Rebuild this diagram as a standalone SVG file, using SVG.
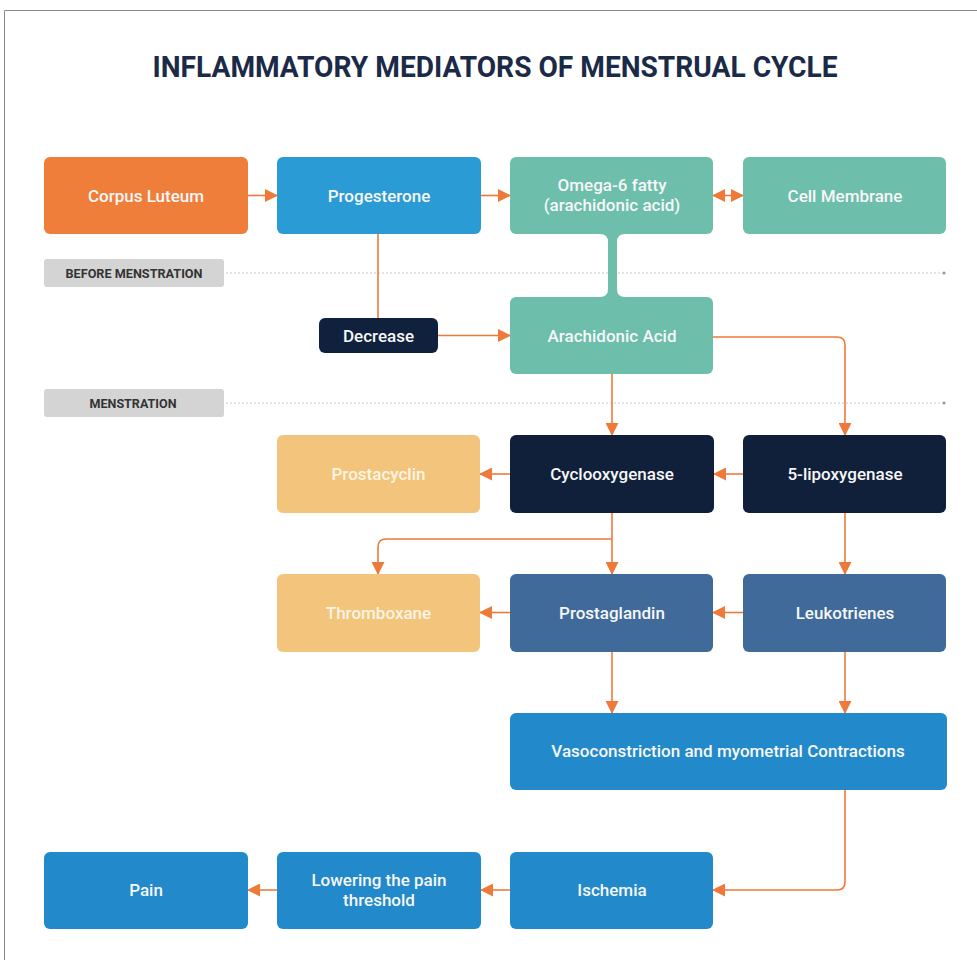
<svg xmlns="http://www.w3.org/2000/svg" width="977" height="960" viewBox="0 0 977 960">
<defs>
<marker id="ah" markerUnits="userSpaceOnUse" markerWidth="13" markerHeight="13" refX="12" refY="6.5" orient="auto-start-reverse" viewBox="0 0 13 13">
<path d="M0,0 L13,6.5 L0,13 Z" fill="#EE7A3A"/>
</marker>
</defs>
<style>
.box{rx:6;ry:6}
.t{font-family:Roboto,"Liberation Sans",sans-serif;font-size:17px;font-weight:500;fill:#F7F7F7;text-anchor:middle;dominant-baseline:central}
.tl{fill:#FDF4E3}
.lbl{font-family:Roboto,"Liberation Sans",sans-serif;font-size:13px;font-weight:700;fill:#333;text-anchor:middle;dominant-baseline:central}
.c{fill:none;stroke:#EE7A3A;stroke-width:1.6}
.a{marker-end:url(#ah)}
.dot{stroke:#C8C8C8;stroke-width:1;stroke-dasharray:2 2;fill:none}
</style>
<rect width="977" height="960" fill="#FFFFFF"/>
<path d="M4.5,960 V10.5 H977" fill="none" stroke="#8A8A8A" stroke-width="1"/>
<text x="495" y="66" font-family="Roboto,'Liberation Sans',sans-serif" font-size="30" font-weight="700" fill="#1B2A47" text-anchor="middle" dominant-baseline="central" textLength="685" lengthAdjust="spacingAndGlyphs">INFLAMMATORY MEDIATORS OF MENSTRUAL CYCLE</text>

<g id="phases">
<g id="before-label">
<rect x="44" y="259" width="180" height="28" rx="3" fill="#D4D4D4"/>
<text class="lbl" x="134" y="273.5" textLength="137" lengthAdjust="spacingAndGlyphs">BEFORE MENSTRATION</text>
<line class="dot" x1="226" y1="273" x2="940" y2="273"/>
<circle cx="944" cy="273" r="1.6" fill="#999"/>
</g>
<g id="menstration-label">
<rect x="44" y="389" width="180" height="28" rx="3" fill="#D4D4D4"/>
<text class="lbl" x="133" y="403.5" textLength="87" lengthAdjust="spacingAndGlyphs">MENSTRATION</text>
<line class="dot" x1="226" y1="403" x2="940" y2="403"/>
<circle cx="944" cy="403" r="1.6" fill="#999"/>
</g>
</g>

<g id="connectors">
<line class="c a" x1="248" y1="195.5" x2="277" y2="195.5"/>
<line class="c a" x1="481" y1="195.5" x2="510" y2="195.5"/>
<line class="c a" x1="713" y1="195.5" x2="743" y2="195.5" marker-start="url(#ah)"/>
<path d="M600,234 Q608,234 608,242 L608,289 Q608,297 600,297 L625,297 Q617,297 617,289 L617,242 Q617,234 625,234 Z" fill="#6DBEAB"/>
<path class="c" d="M378,234 V318"/>
<line class="c a" x1="438" y1="335.5" x2="510" y2="335.5"/>
<path class="c a" d="M713,337 H837 Q845,337 845,345 V435"/>
<line class="c a" x1="612" y1="374" x2="612" y2="435"/>
<line class="c a" x1="743" y1="474" x2="714" y2="474"/>
<line class="c a" x1="510" y1="474" x2="480" y2="474"/>
<line class="c a" x1="612" y1="513" x2="612" y2="574"/>
<path class="c a" d="M612,539 H386 Q378,539 378,547 V574"/>
<line class="c a" x1="845" y1="513" x2="845" y2="574"/>
<line class="c a" x1="743" y1="612.5" x2="713" y2="612.5"/>
<line class="c a" x1="510" y1="612.5" x2="480" y2="612.5"/>
<line class="c a" x1="612" y1="652" x2="612" y2="713"/>
<line class="c a" x1="845" y1="652" x2="845" y2="713"/>
<path class="c a" d="M845,790 V882 Q845,890 837,890 H713"/>
<line class="c a" x1="510" y1="890" x2="481" y2="890"/>
<line class="c a" x1="277" y1="890" x2="248" y2="890"/>
</g>

<g id="corpus-luteum"><rect class="box" x="44" y="157" width="204" height="77" fill="#F07E3B"/><text class="t" x="146" y="195.5">Corpus Luteum</text></g>
<g id="progesterone"><rect class="box" x="277" y="157" width="204" height="77" fill="#2B9BD5"/><text class="t" x="379" y="195.5">Progesterone</text></g>
<g id="omega6"><rect class="box" x="510" y="157" width="203" height="77" fill="#6DBEAB"/><text class="t" x="612" y="185">Omega-6 fatty</text><text class="t" x="612" y="205">(arachidonic acid)</text></g>
<g id="cell-membrane"><rect class="box" x="743" y="157" width="203" height="77" fill="#6DBEAB"/><text class="t" x="845" y="195.5">Cell Membrane</text></g>
<g id="decrease"><rect x="319" y="318" width="119" height="35" rx="6" fill="#10213D"/><text class="t" x="378.5" y="335.5">Decrease</text></g>
<g id="arachidonic-acid"><rect class="box" x="510" y="297" width="203" height="77" fill="#6DBEAB"/><text class="t" x="612" y="335.5">Arachidonic Acid</text></g>
<g id="prostacyclin"><rect class="box" x="277" y="435" width="203" height="78" fill="#F3C47C"/><text class="t tl" x="378.5" y="474">Prostacyclin</text></g>
<g id="cyclooxygenase"><rect class="box" x="510" y="435" width="204" height="78" fill="#11203A"/><text class="t" x="612" y="474">Cyclooxygenase</text></g>
<g id="lipoxygenase"><rect class="box" x="743" y="435" width="203" height="78" fill="#11203A"/><text class="t" x="845" y="474">5-lipoxygenase</text></g>
<g id="thromboxane"><rect class="box" x="277" y="574" width="203" height="78" fill="#F3C47C"/><text class="t tl" x="378.5" y="612.5">Thromboxane</text></g>
<g id="prostaglandin"><rect class="box" x="510" y="574" width="203" height="78" fill="#3F6A9A"/><text class="t" x="612" y="612.5">Prostaglandin</text></g>
<g id="leukotrienes"><rect class="box" x="743" y="574" width="203" height="78" fill="#3F6A9A"/><text class="t" x="845" y="612.5">Leukotrienes</text></g>
<g id="vasoconstriction"><rect class="box" x="510" y="713" width="437" height="77" fill="#2289CB"/><text class="t" x="728" y="751">Vasoconstriction and myometrial Contractions</text></g>
<g id="ischemia"><rect class="box" x="510" y="852" width="203" height="77" fill="#2289CB"/><text class="t" x="612" y="890">Ischemia</text></g>
<g id="lowering"><rect class="box" x="277" y="852" width="204" height="77" fill="#2289CB"/><text class="t" x="379" y="880">Lowering the pain</text><text class="t" x="379" y="900">threshold</text></g>
<g id="pain"><rect class="box" x="44" y="852" width="204" height="77" fill="#2289CB"/><text class="t" x="146" y="890">Pain</text></g>
</svg>
